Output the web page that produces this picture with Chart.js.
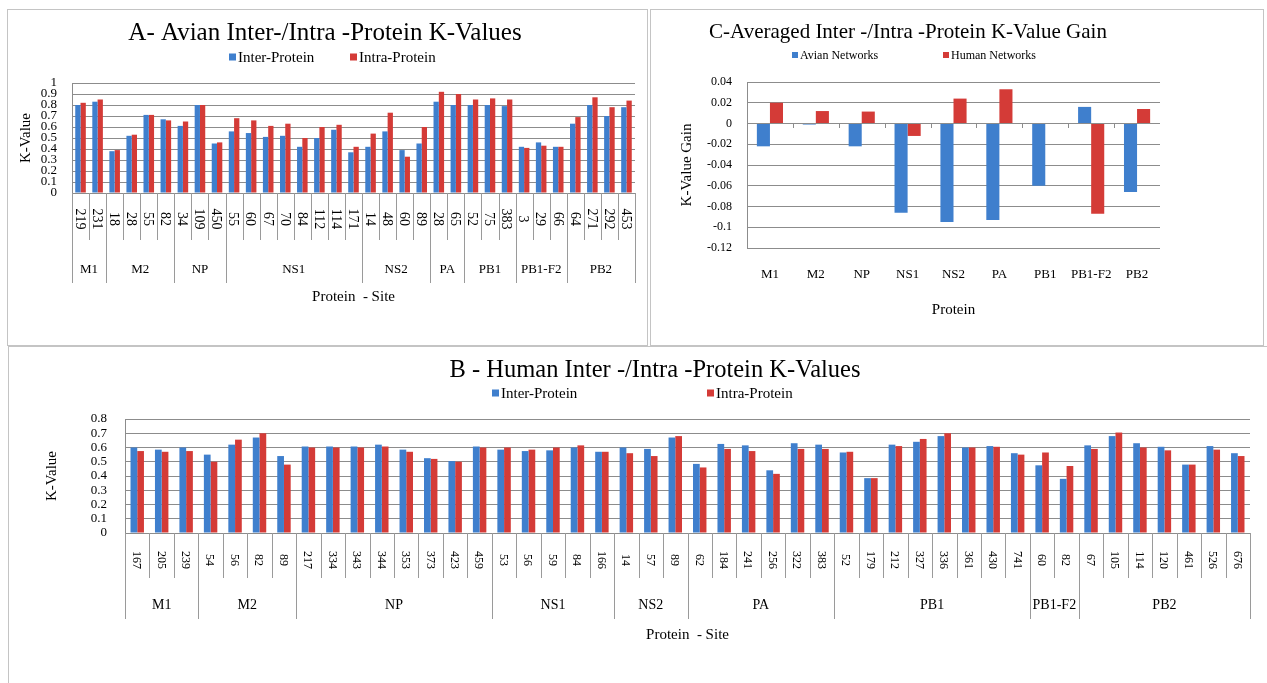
<!DOCTYPE html>
<html><head><meta charset="utf-8">
<script src="https://cdn.jsdelivr.net/npm/chart.js@4.4.1/dist/chart.umd.min.js"></script>
<style>
html,body{margin:0;padding:0;background:#fff;width:1267px;height:683px;overflow:hidden;}
canvas{position:absolute;}
.box{position:absolute;border:1.5px solid #c4c4c4;box-sizing:border-box;}
</style></head><body>
<div class="box" style="left:7px;top:9px;width:641px;height:337px"></div>
<div class="box" style="left:650px;top:9px;width:614px;height:337px"></div>
<div class="box" style="left:8px;top:346px;width:1262px;height:340px;border-right:none;border-bottom:none"></div>
<canvas id="cA" width="638" height="334" style="left:8px;top:10px"></canvas>
<canvas id="cC" width="612" height="334" style="left:651px;top:10px"></canvas>
<canvas id="cB" width="1258" height="336" style="left:9px;top:347px"></canvas>
<script>
// ---------- Panel A: Avian ----------
const groupsA = ['M1','M2','NP','NS1','NS2','PA','PB1','PB1-F2','PB2'];
const groupSizesA = [2,4,3,8,4,2,3,3,4];
const sitesA = ['219','231','18','28','55','82','34','109','450','55','60','67','70','84','112','114','171','14','48','60','89','28','65','52','75','383','3','29','66','64','271','292','453'];
const interA = [0.80,0.83,0.38,0.52,0.71,0.67,0.61,0.80,0.45,0.56,0.545,0.51,0.52,0.42,0.50,0.575,0.37,0.42,0.56,0.39,0.45,0.83,0.80,0.80,0.80,0.79,0.42,0.46,0.42,0.63,0.80,0.70,0.78];
const intraA = [0.82,0.85,0.39,0.53,0.71,0.66,0.65,0.80,0.46,0.68,0.66,0.61,0.63,0.50,0.60,0.62,0.42,0.54,0.73,0.33,0.60,0.92,0.90,0.85,0.86,0.85,0.41,0.43,0.42,0.69,0.87,0.78,0.84];

// ---------- Panel B: Human ----------
const groupsB = ['M1','M2','NP','NS1','NS2','PA','PB1','PB1-F2','PB2'];
const groupSizesB = [3,4,8,5,3,6,8,2,7];
const sitesB = ['167','205','239','54','56','82','89','217','334','343','344','353','373','423','459','53','56','59','84','166','14','57','89','62','184','241','256','322','383','52','179','212','327','336','361','430','741','60','82','67','105','114','120','461','526','676'];
const interB = [0.60,0.585,0.60,0.55,0.62,0.67,0.54,0.607,0.607,0.607,0.62,0.585,0.525,0.505,0.607,0.585,0.575,0.58,0.60,0.57,0.60,0.59,0.67,0.485,0.625,0.615,0.44,0.63,0.62,0.565,0.385,0.62,0.64,0.68,0.60,0.61,0.56,0.475,0.38,0.615,0.68,0.63,0.605,0.48,0.61,0.56];
const intraB = [0.575,0.57,0.575,0.50,0.655,0.70,0.48,0.60,0.60,0.60,0.607,0.57,0.52,0.50,0.60,0.60,0.585,0.60,0.615,0.57,0.56,0.54,0.68,0.46,0.59,0.575,0.415,0.59,0.59,0.57,0.385,0.61,0.66,0.70,0.60,0.605,0.55,0.565,0.47,0.59,0.705,0.60,0.58,0.48,0.585,0.54];

// ---------- Panel C: Averaged gain ----------
const proteinsC = ['M1','M2','NP','NS1','NS2','PA','PB1','PB1-F2','PB2'];
const avianGain = [-0.022,-0.001,-0.022,-0.086,-0.095,-0.093,-0.060,0.016,-0.066];
const humanGain = [0.020,0.012,0.0115,-0.012,0.024,0.033,0,-0.087,0.014];

const BLUE = '#3f7fcd', RED = '#d43b37', GRID = '#8c8c8c', SEP = '#9a9a9a';
const SERIF = '"Liberation Serif", "Times New Roman", serif';
Chart.defaults.font.family = SERIF;
Chart.defaults.color = '#000';

const decorPlugin = {
  id: 'decor',
  afterDraw(chart) {
    const d = chart.options.plugins.decor; if (!d) return;
    const ctx = chart.ctx, ca = chart.chartArea, xs = chart.scales.x, ys = chart.scales.y;
    ctx.save();
    ctx.fillStyle = '#000';
    ctx.textAlign = 'center'; ctx.textBaseline = 'middle';
    ctx.font = d.title.size + 'px ' + SERIF;
    ctx.fillText(d.title.text, d.title.x, d.title.y);
    // legend
    ctx.font = d.legend.size + 'px ' + SERIF; ctx.textAlign = 'left';
    chart.data.datasets.forEach((ds, i) => {
      const p = d.legend.pos[i], m = d.legend.marker;
      ctx.fillStyle = ds.backgroundColor;
      ctx.fillRect(p[0], p[1] - m / 2, m, m);
      ctx.fillStyle = '#000';
      ctx.fillText(ds.label, p[0] + m + 2, p[1] + 1);
    });
    // x title
    ctx.textAlign = 'center';
    ctx.font = d.xTitle.size + 'px ' + SERIF;
    ctx.fillText(d.xTitle.text, (ca.left + ca.right) / 2, d.xTitle.y);
    const n = chart.data.labels.length;
    const bound = i => i === 0 ? ca.left : (i === n ? ca.right : (xs.getPixelForValue(i - 1) + xs.getPixelForValue(i)) / 2);
    if (d.groups) {
      const g = d.groups;
      const gb = new Set([0]); let acc = 0;
      g.sizes.forEach(s => { acc += s; gb.add(acc); });
      ctx.strokeStyle = SEP; ctx.lineWidth = 1;
      for (let i = 0; i <= n; i++) {
        const x = Math.round(bound(i)) + 0.5;
        ctx.beginPath(); ctx.moveTo(x, ca.bottom); ctx.lineTo(x, gb.has(i) ? g.groupBottom : g.siteBottom); ctx.stroke();
      }
      // site labels rotated
      ctx.font = g.siteSize + 'px ' + SERIF;
      for (let i = 0; i < n; i++) {
        ctx.save();
        ctx.translate(xs.getPixelForValue(i), g.siteY);
        ctx.rotate(Math.PI / 2);
        ctx.textAlign = 'center'; ctx.textBaseline = 'middle';
        ctx.fillText(chart.data.labels[i], 0, 1);
        ctx.restore();
      }
      ctx.font = g.groupSize + 'px ' + SERIF;
      let start = 0;
      g.names.forEach((name, k) => {
        const end = start + g.sizes[k];
        ctx.fillText(name, (bound(start) + bound(end)) / 2, g.groupY);
        start = end;
      });
    }
    if (d.catLabels) {
      ctx.font = d.catLabels.size + 'px ' + SERIF;
      ctx.textAlign = 'center'; ctx.textBaseline = 'middle';
      for (let i = 0; i < n; i++) ctx.fillText(chart.data.labels[i], xs.getPixelForValue(i), d.catLabels.y);
    }
    if (d.zeroTicks) {
      const y0 = Math.round(ys.getPixelForValue(0));
      ctx.strokeStyle = GRID; ctx.lineWidth = 1;
      for (let i = 1; i < n; i++) {
        const x = Math.round(bound(i)) + 0.5;
        ctx.beginPath(); ctx.moveTo(x, y0); ctx.lineTo(x, y0 + 4); ctx.stroke();
      }
    }
    ctx.restore();
  }
};

const fmt = v => String(+(+v).toFixed(3));

function makeChart(id, labels, datasets, o) {
  return new Chart(document.getElementById(id), {
    type: 'bar',
    data: { labels, datasets },
    options: {
      responsive: false, animation: false, devicePixelRatio: 1,
      layout: { padding: { left: 0, top: o.top, right: o.padRight, bottom: o.padBottom } },
      plugins: { legend: { display: false }, title: { display: false }, tooltip: { enabled: false }, decor: o.decor },
      datasets: { bar: { categoryPercentage: o.catPct, barPercentage: 1 } },
      scales: {
        x: {
          grid: { display: false, drawTicks: false },
          border: { display: o.xBorder, color: GRID },
          ticks: { display: false },
          afterFit: s => { s.height = 0; }
        },
        y: {
          min: o.min, max: o.max,
          ticks: { stepSize: o.step, autoSkip: false, font: { size: o.yTickSize }, color: '#000', padding: o.yTickPad, callback: fmt },
          grid: { color: GRID, drawTicks: false },
          border: { display: true, color: GRID },
          title: { display: true, text: o.yTitle, font: { size: 15 }, color: '#000', padding: { top: o.yTitlePad, bottom: 0 } },
          afterFit: s => { s.width = o.left; }
        }
      }
    },
    plugins: [decorPlugin]
  });
}

makeChart('cA', sitesA, [
  { label: 'Inter-Protein', data: interA, backgroundColor: BLUE },
  { label: 'Intra-Protein', data: intraA, backgroundColor: RED }
], {
  top: 73, padRight: 11, padBottom: 151, left: 64, catPct: 0.62,
  min: 0, max: 1, step: 0.1, yTickSize: 13, yTickPad: 15, yTitle: 'K-Value', yTitlePad: 9,
  xBorder: true,
  decor: {
    title: { text: 'A- Avian Inter-/Intra -Protein K-Values', x: 317, y: 23, size: 25 },
    legend: { size: 15, marker: 7, pos: [[221, 47], [342, 47]] },
    xTitle: { text: 'Protein  - Site', y: 287, size: 15 },
    groups: { names: groupsA, sizes: groupSizesA, siteY: 209, siteSize: 14, siteBottom: 230, groupBottom: 273, groupY: 260, groupSize: 13 }
  }
});

makeChart('cC', proteinsC, [
  { label: 'Avian Networks', data: avianGain, backgroundColor: BLUE },
  { label: 'Human Networks', data: humanGain, backgroundColor: RED }
], {
  top: 72, padRight: 103, padBottom: 96, left: 96, catPct: 0.57,
  min: -0.12, max: 0.04, step: 0.02, yTickSize: 12, yTickPad: 15, yTitle: 'K-Value Gain', yTitlePad: 27,
  xBorder: false,
  decor: {
    title: { text: 'C-Averaged Inter -/Intra -Protein K-Value Gain', x: 257, y: 22, size: 21 },
    legend: { size: 12, marker: 6, pos: [[141, 45], [292, 45]] },
    xTitle: { text: 'Protein', y: 300, size: 15 },
    catLabels: { y: 265, size: 13 },
    zeroTicks: true
  }
});

makeChart('cB', sitesB, [
  { label: 'Inter-Protein', data: interB, backgroundColor: BLUE },
  { label: 'Intra-Protein', data: intraB, backgroundColor: RED }
], {
  top: 72, padRight: 17, padBottom: 150, left: 116, catPct: 0.55,
  min: 0, max: 0.8, step: 0.1, yTickSize: 13, yTickPad: 18, yTitle: 'K-Value', yTitlePad: 34,
  xBorder: true,
  decor: {
    title: { text: 'B - Human Inter -/Intra -Protein K-Values', x: 646, y: 24, size: 24.5 },
    legend: { size: 15, marker: 7, pos: [[483, 46], [698, 46]] },
    xTitle: { text: 'Protein  - Site', y: 288, size: 15 },
    groups: { names: groupsB, sizes: groupSizesB, siteY: 213, siteSize: 12, siteBottom: 231, groupBottom: 272, groupY: 258, groupSize: 14 }
  }
});
</script>
</body></html>
